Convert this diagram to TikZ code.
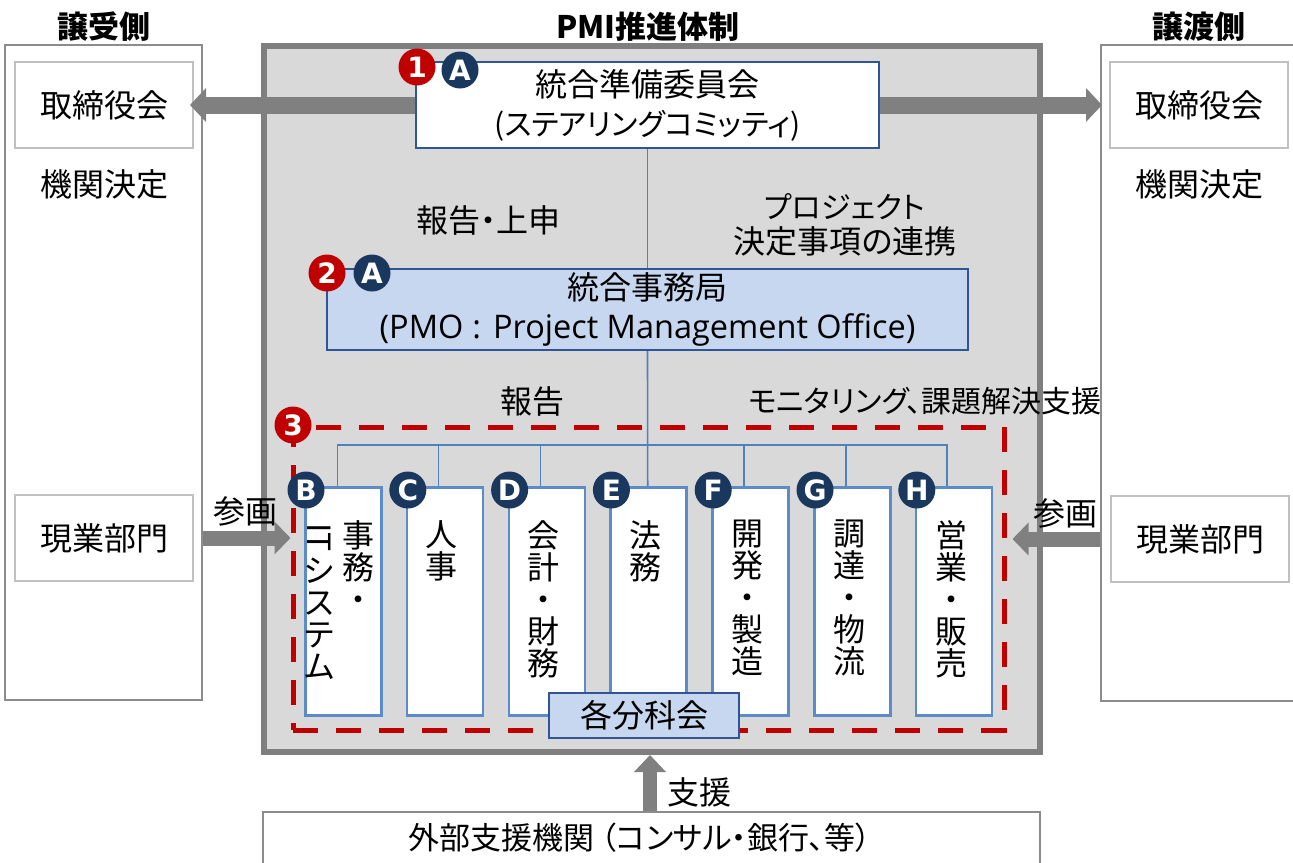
\documentclass[tikz,border=0pt]{standalone}
\usepackage{fontspec}
\setmainfont{Noto Sans CJK JP}
\newfontfamily\jpp{Noto Sans CJK JP}[RawFeature=+palt]
\newfontfamily\latf{Open Sans}
\newfontfamily\badgef{DejaVu Sans}
\usetikzlibrary{arrows.meta,positioning}
\definecolor{navy}{HTML}{1A375E}
\definecolor{badred}{HTML}{C00000}
\definecolor{boxblue}{HTML}{2F5597}
\definecolor{colblue}{HTML}{5B8BC9}
\definecolor{lineblue}{HTML}{4F81BD}
\definecolor{lightblue}{HTML}{C6D7EF}
\definecolor{maingray}{HTML}{D9D9D9}
\definecolor{bordgray}{HTML}{7F7F7F}
\definecolor{sidegray}{HTML}{8C8C8C}
\definecolor{innergray}{HTML}{C0C0C0}
\definecolor{arrgray}{HTML}{808080}
\tikzset{
  txt/.style={font=\fontsize{32}{36}\selectfont\jpp, inner sep=0pt},
  ktxt/.style={font=\fontsize{30}{35}\selectfont\jpp, inner sep=0pt},
  title/.style={font=\fontsize{31}{34}\selectfont\bfseries, inner sep=0pt},
  sidebox/.style={draw=sidegray, line width=2.5pt, fill=white, inner sep=0pt},
  innerbox/.style={draw=innergray, line width=2pt, fill=white, inner sep=0pt, font=\fontsize{32}{36}\selectfont},
  bluebox/.style={draw=boxblue, line width=2pt, inner sep=0pt, align=center, font=\fontsize{32}{39}\selectfont\jpp},
  colbox/.style={draw=colblue, line width=2.6pt, fill=white, inner sep=0pt, minimum width=76pt, minimum height=228pt},
  coltext/.style={font=\fontsize{32}{32}\selectfont, inner sep=0pt, align=center, anchor=north},
  badge/.style={circle, minimum size=37pt, inner sep=0pt, text=white, font=\fontsize{28}{28}\selectfont\badgef\bfseries},
  redb/.style={badge, fill=badred},
  navyb/.style={badge, fill=navy},
  bigarrow/.style={draw=arrgray, line width=17pt, -{Triangle[width=33pt,length=16pt]}},
  midarrow/.style={draw=arrgray, line width=15pt, -{Triangle[width=32pt,length=16pt]}},
  conn/.style={draw=lineblue, line width=1.6pt},
}
\begin{document}
\begin{tikzpicture}[x=1pt,y=-1pt]
\clip (0,0) rectangle (1293,862);
\fill[white] (0,0) rectangle (1293,862);

% side boxes
\node[sidebox, minimum width=197pt, minimum height=655pt] (lo) at (103.5,372.5) {};
\node[sidebox, minimum width=200pt, minimum height=656pt] (ro) at (1201,373) {};
\node[innerbox, minimum width=178pt, minimum height=86pt] (ltori) at (104,105) {取締役会};
\node[innerbox, minimum width=178pt, minimum height=86pt] (rtori) at (1199,105) {取締役会};
\node[innerbox, minimum width=178pt, minimum height=86pt] (lgen) at (104,538) {現業部門};
\node[innerbox, minimum width=178pt, minimum height=86pt] (rgen) at (1200,539) {現業部門};
\node[txt] (lkikan) at (104,184) {機関決定};
\node[txt] (rkikan) at (1199,184) {機関決定};

% titles
\node[title] (tl) at (104,27) {譲受側};
\node[title] (tc) at (648,27) {PMI推進体制};
\node[title] (tr) at (1199,27) {譲渡側};

% main box
\node[draw=bordgray, fill=maingray, line width=6pt, minimum width=776pt, minimum height=706pt, inner sep=0pt] (main) at (652,399) {};

% external box
\node[draw=sidegray, line width=2pt, fill=white, minimum width=777pt, minimum height=80pt, inner sep=0pt] (ext) at (651.5,852) {};
\node[txt, font=\fontsize{31}{34}\selectfont\jpp] (extt) at (640,838) {外部支援機関\hspace{6pt}（コンサル・銀行、等）};

% box 1 and 2
\node[bluebox, fill=white, minimum width=463pt, minimum height=86pt] (b1) at (647.5,105) {統合準備委員会\\{\fontsize{30}{39}\selectfont(ステアリングコミッティ)}};
\node[bluebox, fill=lightblue, minimum width=641pt, minimum height=81pt] (b2) at (647.5,309.5) {統合事務局\\{\latf\fontsize{32.5}{39}\selectfont (PMO\hspace{9pt}:\hspace{12pt}Project Management Office)}};

% arrows top
\draw[bigarrow, shorten >=-4pt] (b1.west) -- (ltori.east);
\draw[bigarrow, shorten >=7pt] (b1.east) -- (rtori.west);

% labels
\node[txt] (lab1) at (488,220) {報告・上申};
\node[ktxt, align=center] (lab2) at (845,225) {プロジェクト\\{\fontsize{32}{35}\selectfont 決定事項の連携}};
\node[txt] (lab3) at (532,401) {報告};
\node[ktxt] (lab4) at (925,401) {モニタリング、課題解決支援};

% working group dashed rectangle
\node[draw=badred, line width=5pt, dash pattern=on 25pt off 18pt, minimum width=711pt, minimum height=303pt, inner sep=0pt] (wg) at (648.5,578.5) {};

% columns
\foreach \n/\i in {B/0,C/1,D/2,E/3,F/4,G/5,H/6}{
  \node[colbox, anchor=north west] (c\n) at ({304+101.8*\i},486) {};
}
\coordinate (busL) at ([xshift=-6pt]cB.north);
\coordinate (busR) at ([xshift=-7pt]cH.north);
% connectors
\draw[conn] (b1.south) -- (b2.north);
\draw[conn] (b2.south) -- ([xshift=-1pt]cE.north);
\draw[conn] (busL) -- (busL |- 0,445) -- (busR |- 0,445) -- (busR);
\foreach \n in {C,D,F,G,H}{
  \draw[conn] ([xshift=-6.5pt]c\n.north) -- ([xshift=-6.5pt]c\n.north |- 0,445);
}

% column texts
\node[coltext] (tB1) at (358,520) {事\\務\\・};
\node[coltext] (tB2) at (319,523) {\rotatebox[origin=c]{-90}{\fontsize{32}{32}\selectfont IT}\\[1pt]シ\\ス\\テ\\ム};
\node[coltext] (tC) at (441,520) {人\\事};
\node[coltext] (tD) at (543,520) {会\\計\\・\\財\\務};
\node[coltext] (tE) at (645,520) {法\\務};
\node[coltext] (tF) at (747,520) {開\\発\\・\\製\\造};
\node[coltext] (tG) at (849,520) {調\\達\\・\\物\\流};
\node[coltext] (tH) at (951,520) {営\\業\\・\\販\\売};

% sub committee
\node[draw=boxblue, line width=2.2pt, fill=lightblue, minimum width=190pt, minimum height=45pt, inner sep=0pt, font=\fontsize{32}{34}\selectfont] (bunka) at (644,715.5) {各分科会};

% side arrows
\draw[midarrow] (lo.east |- lgen.east) -- (wg.west |- lgen.east);
\draw[midarrow, shorten >=6pt] (ro.west |- rgen.west) -- (wg.east |- rgen.west);
\node[txt] (sank1) at (245,511) {参画};
\node[txt] (sank2) at (1065,513) {参画};

% support arrow
\draw[draw=arrgray, line width=14pt, -{Triangle[width=31pt,length=17pt]}] (ext.north -| 650,0) -- (main.south -| 650,0);
\node[txt] (shien) at (699,792) {支援};

% badges
\node[redb] (n1) at (417,67) {1};
\node[navyb] (a1) at (460,70) {A};
\node[redb] (n2) at (327,273) {2};
\node[navyb] (a2) at (372,273) {A};
\node[redb] (n3) at (293,425) {3};
\foreach \n/\i in {B/0,C/1,D/2,E/3,F/4,G/5,H/6}{
  \node[navyb] (bd\n) at ({306+101.8*\i},490) {\n};
}
\end{tikzpicture}
\end{document}
